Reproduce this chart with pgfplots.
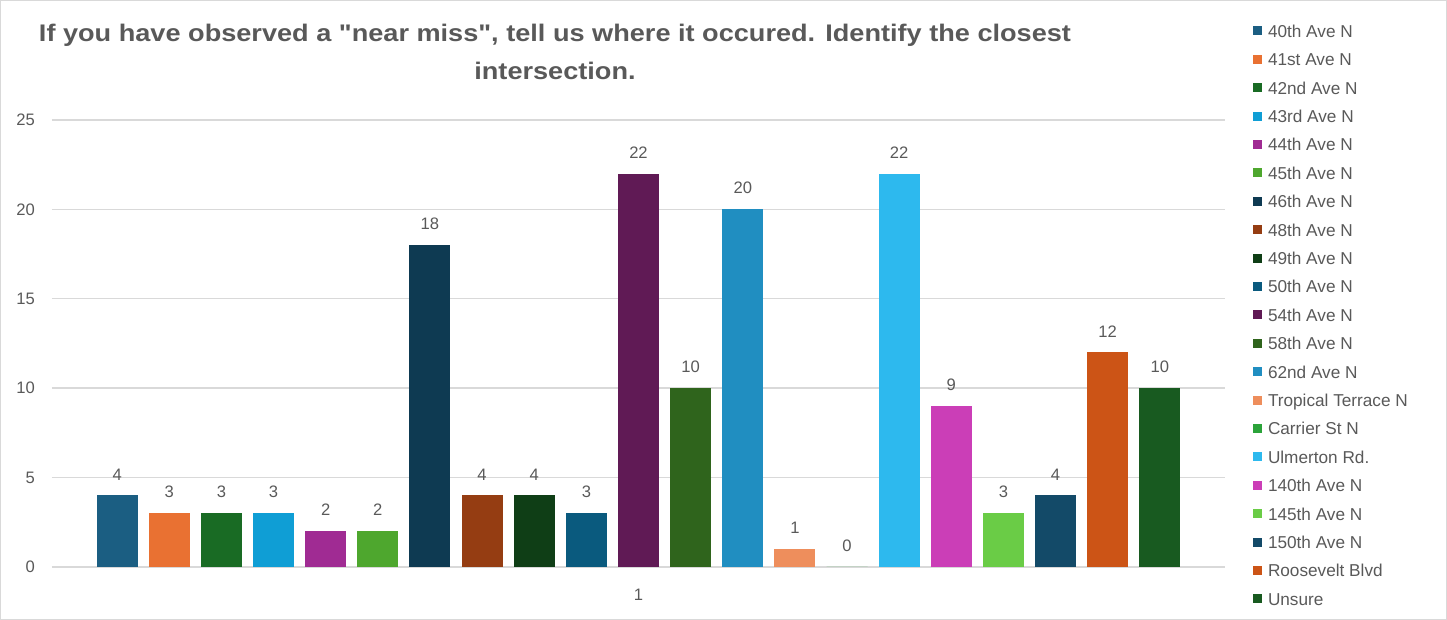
\documentclass[border=0pt]{standalone}
\usepackage{fontspec}
\setmainfont{Liberation Sans}
\newfontfamily\titlefont{Liberation Sans}
\usepackage{pgfplots}
\pgfplotsset{compat=1.18}
\definecolor{txt}{HTML}{595959}
\definecolor{gridc}{HTML}{D9D9D9}
\definecolor{c1}{HTML}{1B5E82}
\definecolor{c2}{HTML}{E97132}
\definecolor{c3}{HTML}{196B24}
\definecolor{c4}{HTML}{0F9ED5}
\definecolor{c5}{HTML}{A02B93}
\definecolor{c6}{HTML}{4EA72E}
\definecolor{c7}{HTML}{0E3A52}
\definecolor{c8}{HTML}{953D12}
\definecolor{c9}{HTML}{0F3E16}
\definecolor{c10}{HTML}{0A5A7E}
\definecolor{c11}{HTML}{601A55}
\definecolor{c12}{HTML}{2F641C}
\definecolor{c13}{HTML}{208EC1}
\definecolor{c14}{HTML}{EE8E5C}
\definecolor{c15}{HTML}{2BA33A}
\definecolor{c16}{HTML}{2DB9EE}
\definecolor{c17}{HTML}{CB3EB7}
\definecolor{c18}{HTML}{6ACC46}
\definecolor{c19}{HTML}{134A68}
\definecolor{c20}{HTML}{CC5416}
\definecolor{c21}{HTML}{185A20}
\begin{document}
\begin{tikzpicture}
\useasboundingbox (-26pt,-26.5pt) rectangle (697.5pt,283.5pt);
\draw[gridc, line width=0.6pt] (-25.7pt,-26.2pt) rectangle (697.2pt,283.2pt);
\begin{axis}[
  at={(0,0)}, anchor=south west,
  width=586.5pt, height=223.5pt, scale only axis,
  xmin=-1.25, xmax=21.25, ymin=0, ymax=25,
  ytick={0,5,10,15,20,25},
  xtick={10}, xticklabels={1},
  ymajorgrids, grid style={color=gridc, line width=0.7pt},
  axis line style={draw=none},
  major tick length=0pt,
  /pgf/number format/assume math mode=true,
  tick label style={font=\fontsize{8.3}{10}\selectfont, text=txt},
  yticklabel style={xshift=-5pt},
  xticklabel style={yshift=-7.6pt},
  ybar, bar width=20.5pt, bar shift=0pt,
  every axis plot/.append style={draw=none},
  nodes near coords,
  every node near coord/.append style={font=\fontsize{8.3}{10}\selectfont, text=txt, yshift=4.1pt},
  legend image code/.code={\fill[#1] (0pt,-1.25pt) rectangle (4.5pt,3.25pt);},
  legend cell align=left,
  legend style={at={(rel axis cs:1,1)}, anchor=north west, xshift=14pt, yshift=47.3pt,
    draw=none, fill=none, inner sep=0pt, outer sep=0pt, row sep=6.7pt, column sep=3pt,
    font=\fontsize{8.6}{10}\selectfont, text=txt,
    nodes={inner sep=0pt, text height=6pt, text depth=1.5pt}},
]
\addplot[fill=c1] coordinates {(0,4)}; \addlegendentry{40th Ave N}
\addplot[fill=c2] coordinates {(1,3)}; \addlegendentry{41st Ave N}
\addplot[fill=c3] coordinates {(2,3)}; \addlegendentry{42nd Ave N}
\addplot[fill=c4] coordinates {(3,3)}; \addlegendentry{43rd Ave N}
\addplot[fill=c5] coordinates {(4,2)}; \addlegendentry{44th Ave N}
\addplot[fill=c6] coordinates {(5,2)}; \addlegendentry{45th Ave N}
\addplot[fill=c7] coordinates {(6,18)}; \addlegendentry{46th Ave N}
\addplot[fill=c8] coordinates {(7,4)}; \addlegendentry{48th Ave N}
\addplot[fill=c9] coordinates {(8,4)}; \addlegendentry{49th Ave N}
\addplot[fill=c10] coordinates {(9,3)}; \addlegendentry{50th Ave N}
\addplot[fill=c11] coordinates {(10,22)}; \addlegendentry{54th Ave N}
\addplot[fill=c12] coordinates {(11,10)}; \addlegendentry{58th Ave N}
\addplot[fill=c13] coordinates {(12,20)}; \addlegendentry{62nd Ave N}
\addplot[fill=c14] coordinates {(13,1)}; \addlegendentry{Tropical Terrace N}
\addplot[fill=c15] coordinates {(14,0)}; \addlegendentry{Carrier St N}
\addplot[fill=c16] coordinates {(15,22)}; \addlegendentry{Ulmerton Rd.}
\addplot[fill=c17] coordinates {(16,9)}; \addlegendentry{140th Ave N}
\addplot[fill=c18] coordinates {(17,3)}; \addlegendentry{145th Ave N}
\addplot[fill=c19] coordinates {(18,4)}; \addlegendentry{150th Ave N}
\addplot[fill=c20] coordinates {(19,12)}; \addlegendentry{Roosevelt Blvd}
\addplot[fill=c21] coordinates {(20,10)}; \addlegendentry{Unsure}
\end{axis}
\node[font=\titlefont\bfseries\fontsize{12}{19}\selectfont, text=txt, align=center, xscale=1.13] at (251.5pt,257.5pt) {If you have observed a "near miss", tell us where it occured. Identify the closest\\intersection.};
\end{tikzpicture}
\end{document}
